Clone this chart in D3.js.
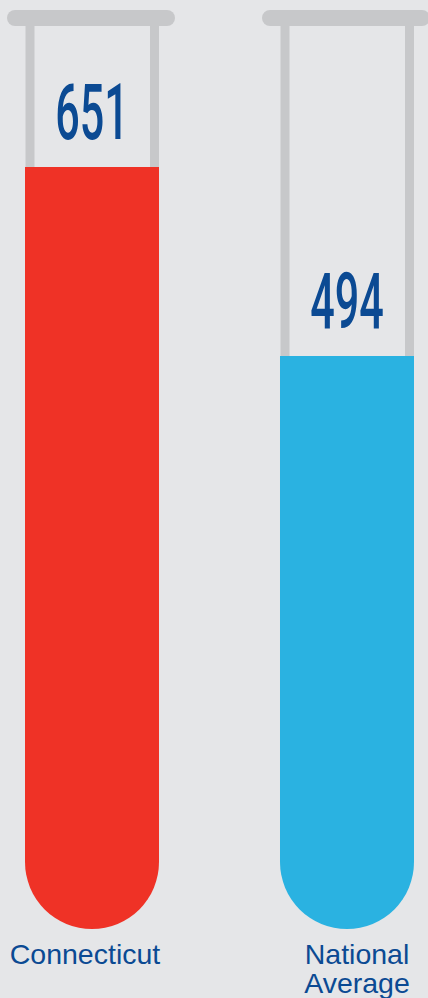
<!DOCTYPE html>
<html>
<head>
<meta charset="utf-8">
<script src="https://cdn.jsdelivr.net/npm/d3@7/dist/d3.min.js"></script>
<style>
  html, body { margin: 0; padding: 0; background: #e5e6e8; }
  svg { display: block; }
</style>
</head>
<body>
<svg id="chart" width="428" height="998"></svg>
<script>
const categories = ["Connecticut", "National Average"];
const labelLines = [["Connecticut"], ["National", "Average"]];
const values = [651, 494];
const fillColors = ["#ef3226", "#2ab2e1"];

const W = 428, H = 998;
const svg = d3.select("#chart");
svg.append("rect").attr("width", W).attr("height", H).attr("fill", "#e5e6e8");

const x = d3.scaleBand().domain(categories).range([25, 414]).paddingInner(0.4745).paddingOuter(0);
const y = d3.scaleLinear().domain([0, 651]).range([951, 167]);

const bw = x.bandwidth();
const r = bw / 2;
const bottomY = 929;
const wallColor = "#c7c8ca";
const textColor = "#0b4a93";

const g = svg.selectAll("g.tube").data(categories).join("g").attr("class", "tube");

// walls
g.append("rect")
  .attr("x", d => x(d) + 0.5).attr("y", 24).attr("width", 9).attr("height", 700)
  .attr("fill", wallColor);
g.append("rect")
  .attr("x", d => x(d) + bw - 9).attr("y", 24).attr("width", 9).attr("height", 700)
  .attr("fill", wallColor);

// rim
g.append("rect")
  .attr("x", d => x(d) - 18).attr("y", 10).attr("width", bw + 34).attr("height", 16)
  .attr("rx", 8).attr("ry", 8)
  .attr("fill", wallColor);

// liquid
g.append("path")
  .attr("fill", (d, i) => fillColors[i])
  .attr("d", (d, i) => {
    const x0 = x(d), x1 = x0 + bw, top = y(values[i]), cy = bottomY - r;
    const p = d3.path();
    p.moveTo(x0, top);
    p.lineTo(x1, top);
    p.lineTo(x1, cy);
    p.arc(x0 + r, cy, r, 0, Math.PI, false);
    p.closePath();
    return p.toString();
  });

// value labels (condensed via horizontal scale)
const sx = 0.56;
g.append("text")
  .attr("transform", (d, i) => `translate(${x(d) + r},${y(values[i]) - 28}) scale(${sx},1)`)
  .attr("text-anchor", "middle")
  .attr("font-family", "Roboto, 'Liberation Sans', sans-serif")
  .attr("font-weight", 500)
  .attr("font-size", 77)
  .attr("fill", textColor)
  .text((d, i) => values[i]);

// category labels
const lab = g.append("text")
  .attr("font-family", "'Liberation Sans', Arial, sans-serif")
  .attr("font-size", 28.5)
  .attr("fill", textColor)
  .attr("text-anchor", "middle");
lab.selectAll("tspan").data((d, i) => labelLines[i].map(t => ({t, d, n: labelLines[i].length})))
  .join("tspan")
  .attr("x", o => o.n > 1 ? x(o.d) + r + 10 : x(o.d) + r - 7)
  .attr("y", (o, j) => 964 + j * 29)
  .text(o => o.t);
</script>
</body>
</html>
